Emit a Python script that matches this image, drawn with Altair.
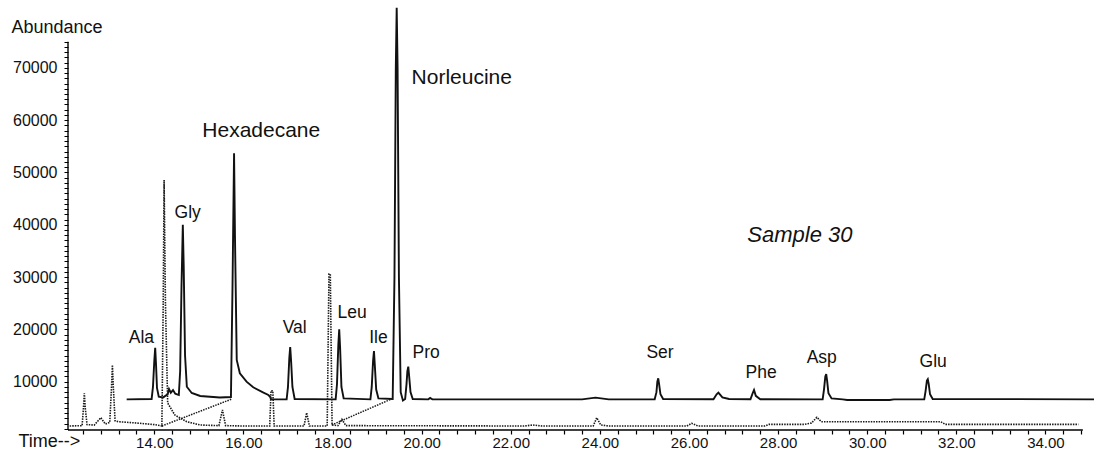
import altair as alt
import pandas as pd

# ---------------- data ----------------
# Solid trace (Sample 30)
solid_time = [13.38, 13.94, 13.97, 14.00, 14.02, 14.04, 14.06, 14.10, 14.20, 14.30,
              14.33, 14.37, 14.42, 14.47, 14.55, 14.58, 14.61, 14.64, 14.66, 14.69,
              14.73, 14.84, 15.03, 15.47, 15.72, 15.755, 15.79, 15.81, 15.85, 15.92,
              16.07, 16.22, 16.45, 16.56, 16.60, 16.62, 16.97, 17.00, 17.03, 17.05,
              17.07, 17.10, 17.15, 18.07, 18.10, 18.13, 18.15, 18.17, 18.20, 18.25,
              18.85, 18.88, 18.91, 18.93, 18.95, 18.98, 19.03, 19.35, 19.39, 19.42,
              19.44, 19.46, 19.49, 19.53, 19.58, 19.63, 19.66, 19.68, 19.70, 19.72,
              19.75, 19.80, 20.15, 20.19, 20.24, 23.60, 23.90, 24.20, 25.23, 25.27,
              25.29, 25.31, 25.33, 25.36, 25.42, 26.55, 26.62, 26.66, 26.75, 26.90,
              27.38, 27.43, 27.46, 27.50, 27.60, 29.00, 29.03, 29.06, 29.08, 29.10,
              29.13, 29.20, 29.45, 29.55, 30.50, 30.60, 31.28, 31.31, 31.34, 31.36,
              31.38, 31.41, 31.47, 35.09]
solid_abund = [6630, 6700, 9000, 14000, 16500, 13000, 8800, 7130, 7000, 7600,
               8600, 7900, 8400, 7700, 7450, 12000, 28000, 40000, 32000, 15000,
               9040, 7840, 7270, 6980, 7070, 28000, 53670, 38000, 14150, 11600,
               10000, 8930, 7900, 7460, 7100, 6630, 6630, 9000, 14500, 16600,
               14000, 9000, 6700, 6630, 9500, 17000, 20000, 16500, 9000, 6800,
               6630, 9000, 14000, 15870, 13000, 8500, 6800, 6700, 30000, 70000,
               81500, 70000, 30000, 8000, 6400, 6700, 9500, 12000, 12870, 11000,
               8000, 6700, 6630, 6900, 6630, 6630, 6950, 6630, 6630, 8000,
               10000, 10650, 9500, 7600, 6700, 6650, 7600, 7900, 7000, 6700,
               6650, 7800, 8410, 7300, 6650, 6630, 8500, 11000, 11470, 10200,
               7800, 6800, 6630, 6500, 6500, 6630, 6630, 8200, 10200, 10460,
               9600, 7600, 6700, 6630]

# Dotted trace
dotted_time = [12.10, 12.38, 12.41, 12.43, 12.45, 12.49, 12.65, 12.80, 12.90, 13.00,
               13.04, 13.06, 13.08, 13.12, 13.20, 13.60, 14.00, 14.17, 14.20, 14.22,
               14.25, 14.30, 14.46, 14.73, 15.03, 15.45, 15.53, 15.60, 16.00, 16.59,
               16.62, 16.66, 16.69, 17.36, 17.42, 17.48, 17.88, 17.92, 17.95, 17.99,
               18.12, 18.21, 18.30, 22.30, 22.50, 22.70, 23.85, 23.93, 24.02, 24.20,
               25.95, 26.06, 26.20, 27.70, 27.80, 28.60, 28.75, 28.87, 28.97, 31.65,
               31.75, 34.74]
dotted_abund = [1530, 1600, 5000, 7780, 5000, 1800, 1700, 3120, 1910, 2200,
                9000, 13190, 9000, 2500, 2350, 2100, 1800, 1530, 25000, 48560,
                25000, 5930, 3630, 2350, 1720, 1600, 4590, 1600, 1530, 1530,
                8280, 8280, 1530, 1530, 4070, 1530, 1530, 30590, 30590, 1720,
                1600, 2810, 1600, 1530, 1720, 1530, 1530, 3120, 1720, 1530,
                1530, 2040, 1530, 1530, 1850, 1850, 2100, 3190, 2350, 2350,
                1850, 1850]

# Dotted connector segments
conn_id = ["a", "a", "b", "b"]
conn_time = [14.17, 15.74, 17.98, 19.36]
conn_abund = [1530, 6690, 1720, 6830]

# Peak labels
label_text = ["Ala", "Gly", "Hexadecane", "Val", "Leu", "Ile", "Norleucine",
              "Pro", "Ser", "Phe", "Asp", "Glu"]
label_time = [13.71, 14.75, 16.40, 17.15, 18.44, 19.03, 20.90, 20.10, 25.35,
              27.62, 28.98, 31.48]
label_abund = [17400, 41240, 56730, 19310, 22180, 17400, 66920, 14530, 14530,
               10710, 13580, 12810]
label_size = [17.5, 17.5, 21, 17.5, 17.5, 17.5, 21, 17.5, 17.5, 17.5, 17.5, 17.5]

sample_text = ["Sample 30"]
sample_time = [28.49]
sample_abund = [36710]

# axes
x_domain = [12.063, 35.09]
y_domain = [765, 82980]
x_ticks = [round(12.4 + 0.4 * i, 1) for i in range(57)]
y_ticks = [1000 * i for i in range(1, 76)]
x_axis_span = [12.063, 34.84]
y_axis_span = [765, 75000]

FONT = "Liberation Sans"
INK = "#111111"

xs = alt.Scale(domain=x_domain, nice=False, zero=False)
ys = alt.Scale(domain=y_domain, nice=False, zero=False)

solid_df = pd.DataFrame({"t": solid_time, "v": solid_abund})
dotted_df = pd.DataFrame({"t": dotted_time, "v": dotted_abund})
conn_df = pd.DataFrame({"id": conn_id, "t": conn_time, "v": conn_abund})
label_df = pd.DataFrame({"label": label_text, "t": label_time, "v": label_abund, "fs": label_size})
sample_df = pd.DataFrame({"label": sample_text, "t": sample_time, "v": sample_abund})
yline_df = pd.DataFrame({"v": [y_axis_span[0]], "v2": [y_axis_span[1]]})
xline_df = pd.DataFrame({"t": [x_axis_span[0]], "t2": [x_axis_span[1]]})

x_axis = alt.Axis(
    values=x_ticks,
    labelExpr="abs(datum.value/2 - round(datum.value/2)) < 0.01 ? format(datum.value, '.2f') : ''",
    domain=False, grid=False, ticks=True, tickSize=4, tickColor="black", tickWidth=1.2,
    labelFont=FONT, labelFontSize=15, labelColor=INK, labelPadding=1,
    labelOverlap=False, labelFlush=False,
    title="Time-->", titleAngle=0, titleAlign="left", titleBaseline="alphabetic",
    titleX=-50, titleY=16.7, titleFont=FONT, titleFontSize=18,
    titleFontWeight="normal", titleColor=INK,
)
y_axis = alt.Axis(
    values=y_ticks,
    labelExpr="datum.value % 10000 === 0 ? format(datum.value, 'd') : ''",
    domain=False, grid=False, ticks=True, tickSize=4, tickColor="black", tickWidth=1,
    labelFont=FONT, labelFontSize=16, labelColor=INK, labelPadding=7,
    labelOverlap=False, labelFlush=False,
    title="Abundance", titleAngle=0, titleAlign="left", titleBaseline="alphabetic",
    titleX=-57, titleY=32, titleFont=FONT, titleFontSize=18,
    titleFontWeight="normal", titleColor=INK,
)


def X():
    return alt.X("t:Q", scale=xs, axis=x_axis)


def Y():
    return alt.Y("v:Q", scale=ys, axis=y_axis)


solid = alt.Chart(solid_df).mark_line(color=INK, strokeWidth=1.9, clip=True).encode(
    x=X(), y=Y())

dotted = alt.Chart(dotted_df).mark_line(color="#1a1a1a", strokeWidth=1.6,
                                         strokeDash=[1.5, 1.1], clip=True).encode(
    x=X(), y=Y())

conn = alt.Chart(conn_df).mark_line(color="#1a1a1a", strokeWidth=1.5,
                                     strokeDash=[1.5, 1.1], clip=True).encode(
    x=X(), y=Y(), detail="id:N")

labels = alt.Chart(label_df).mark_text(font=FONT, color=INK, align="center",
                                        baseline="alphabetic").encode(
    x=X(), y=Y(), text="label:N",
    size=alt.Size("fs:Q", scale=None, legend=None),
)

sample = alt.Chart(sample_df).mark_text(font=FONT, color=INK, align="center",
                                         baseline="alphabetic", fontSize=22,
                                         fontStyle="italic").encode(
    x=X(), y=Y(), text="label:N")

yline = alt.Chart(yline_df).mark_rule(color="black", strokeWidth=1.4).encode(
    x=alt.value(0), y=Y(), y2="v2:Q")

xline = alt.Chart(xline_df).mark_rule(color="black", strokeWidth=1.4).encode(
    x=X(), x2="t2:Q", y=alt.value(430))

chart = alt.layer(solid, dotted, conn, labels, sample, yline, xline).properties(
    width=1026, height=430,
    autosize=alt.AutoSizeParams(type="none"),
    padding={"left": 68, "top": 0, "right": 0, "bottom": 25},
    background="white",
).configure_view(stroke=None)

chart.save("out.html", embed_options={"renderer": "svg", "actions": False})
